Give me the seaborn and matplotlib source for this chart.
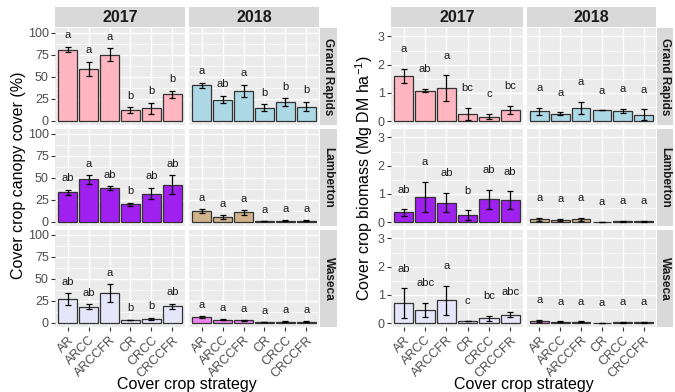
import numpy as np
import pandas as pd
import matplotlib
matplotlib.use("Agg")
import matplotlib.pyplot as plt
import seaborn as sns

# ---------------- data ----------------
strategies = ["AR", "ARCC", "ARCCFR", "CR", "CRCC", "CRCCFR"]
sites = ["Grand Rapids", "Lamberton", "Waseca"]
years = ["2017", "2018"]

# Cover crop canopy cover (%)
cover_gr17 = [81, 59, 75, 12, 14, 30]
cover_gr17_se = [3, 8, 7.5, 3.5, 6.5, 4]
cover_gr17_let = ["a", "a", "a", "b", "b", "b"]
cover_gr18 = [40, 24, 34, 14.5, 21, 16]
cover_gr18_se = [3, 4.5, 7, 4, 4.5, 5.5]
cover_gr18_let = ["a", "ab", "a", "b", "b", "b"]
cover_la17 = [33.5, 48, 38, 19.5, 32, 42]
cover_la17_se = [3, 5, 2.3, 2, 6.5, 11]
cover_la17_let = ["ab", "a", "ab", "b", "ab", "ab"]
cover_la18 = [11.7, 5.5, 10.5, 0.3, 1, 1]
cover_la18_se = [2.3, 2, 2.7, 0.1, 0.4, 0.4]
cover_la18_let = ["a", "a", "a", "a", "a", "a"]
cover_wa17 = [26.7, 18, 34, 3, 4, 18.7]
cover_wa17_se = [6.5, 2.7, 10, 0.5, 1.5, 3]
cover_wa17_let = ["ab", "ab", "a", "b", "b", "ab"]
cover_wa18 = [6.5, 3.5, 2.5, 0.3, 1, 1]
cover_wa18_se = [1, 0.7, 0.5, 0.1, 0.5, 0.5]
cover_wa18_let = ["a", "a", "a", "a", "a", "a"]

# Cover crop biomass (Mg DM ha-1)
bio_gr17 = [1.61, 1.08, 1.16, 0.26, 0.16, 0.39]
bio_gr17_se = [0.25, 0.06, 0.46, 0.22, 0.09, 0.14]
bio_gr17_let = ["a", "ab", "a", "bc", "c", "bc"]
bio_gr18 = [0.34, 0.26, 0.46, 0.38, 0.35, 0.22]
bio_gr18_se = [0.13, 0.05, 0.22, 0.0, 0.08, 0.19]
bio_gr18_let = ["a", "a", "a", "a", "a", "a"]
bio_la17 = [0.34, 0.9, 0.69, 0.25, 0.8, 0.77]
bio_la17_se = [0.11, 0.53, 0.34, 0.16, 0.33, 0.32]
bio_la17_let = ["ab", "a", "ab", "b", "ab", "ab"]
bio_la18 = [0.1, 0.06, 0.1, 0.01, 0.02, 0.02]
bio_la18_se = [0.06, 0.04, 0.05, 0.0, 0.01, 0.01]
bio_la18_let = ["a", "a", "a", "a", "a", "a"]
bio_wa17 = [0.7, 0.47, 0.8, 0.08, 0.17, 0.3]
bio_wa17_se = [0.53, 0.25, 0.53, 0.01, 0.09, 0.09]
bio_wa17_let = ["ab", "abc", "a", "c", "bc", "abc"]
bio_wa18 = [0.08, 0.04, 0.04, 0.01, 0.02, 0.02]
bio_wa18_se = [0.04, 0.02, 0.02, 0.0, 0.01, 0.01]
bio_wa18_let = ["a", "a", "a", "a", "a", "a"]

# fill colour per site-year
color_gr17 = "#FFB6C1"
color_gr18 = "#ADD8E6"
color_la17 = "#A020F0"
color_la18 = "#D2B48C"
color_wa17 = "#E6E6FA"
color_wa18 = "#EE82EE"

cover_panels = [
    [(cover_gr17, cover_gr17_se, cover_gr17_let, color_gr17), (cover_gr18, cover_gr18_se, cover_gr18_let, color_gr18)],
    [(cover_la17, cover_la17_se, cover_la17_let, color_la17), (cover_la18, cover_la18_se, cover_la18_let, color_la18)],
    [(cover_wa17, cover_wa17_se, cover_wa17_let, color_wa17), (cover_wa18, cover_wa18_se, cover_wa18_let, color_wa18)],
]
bio_panels = [
    [(bio_gr17, bio_gr17_se, bio_gr17_let, color_gr17), (bio_gr18, bio_gr18_se, bio_gr18_let, color_gr18)],
    [(bio_la17, bio_la17_se, bio_la17_let, color_la17), (bio_la18, bio_la18_se, bio_la18_let, color_la18)],
    [(bio_wa17, bio_wa17_se, bio_wa17_let, color_wa17), (bio_wa18, bio_wa18_se, bio_wa18_let, color_wa18)],
]

# ---------------- style ----------------
sns.set_theme(style="darkgrid")
plt.rcParams["font.family"] = ["Liberation Sans", "DejaVu Sans"]
plt.rcParams["mathtext.fontset"] = "custom"
plt.rcParams["mathtext.rm"] = "Liberation Sans"
plt.rcParams["mathtext.it"] = "Liberation Sans:italic"

W, H = 675, 392
fig = plt.figure(figsize=(W / 100, H / 100), dpi=100)
fig.patch.set_facecolor("white")


def frac(x0, x1, y0, y1):
    return [x0 / W, 1 - y1 / H, (x1 - x0) / W, (y1 - y0) / H]


rows_y = [(28, 125), (129, 226), (230, 327)]
PANEL_BG = "#EBEBEB"
STRIP_BG = "#D9D9D9"


def draw_panel(ax, vals, se, lets, color, ylim, yticks, yminor, offset, show_y, show_x):
    df = pd.DataFrame({"strategy": strategies, "value": vals})
    sns.barplot(data=df, x="strategy", y="value", order=strategies, ax=ax,
                color=color, saturation=1, width=0.9, edgecolor="#333333",
                linewidth=0.9, errorbar=None, zorder=2)
    centers = [p.get_x() + p.get_width() / 2 for p in ax.patches]
    ax.errorbar(centers, vals, yerr=se, fmt="none", ecolor="black",
                elinewidth=0.9, capsize=2.4, capthick=0.9, zorder=3)
    for c, v, s, l in zip(centers, vals, se, lets):
        ax.text(c, v + s + offset, l, ha="center", va="center",
                fontsize=8, color="#1A1A1A", zorder=4)
    ax.set_facecolor(PANEL_BG)
    ax.set_xlim(-0.6, 5.6)
    ax.set_ylim(*ylim)
    ax.set_yticks(yticks)
    ax.set_yticks(yminor, minor=True)
    ax.set_axisbelow(True)
    ax.grid(which="major", color="white", linewidth=1.0)
    ax.grid(which="minor", axis="y", color="white", linewidth=0.5)
    ax.grid(which="major", axis="x", color="white", linewidth=1.0)
    for s in ax.spines.values():
        s.set_visible(False)
    ax.set_xlabel("")
    ax.set_ylabel("")
    ax.tick_params(which="minor", length=0)
    ax.tick_params(axis="y", which="major", length=3 if show_y else 0, width=0.8,
                   color="#333333", labelcolor="#4D4D4D", labelsize=9, pad=1.5,
                   labelleft=show_y, left=show_y)
    ax.set_xticks(range(len(strategies)))
    if show_x:
        ax.set_xticklabels(strategies, rotation=45, ha="right", rotation_mode="anchor")
        ax.tick_params(axis="x", which="major", length=3, width=0.8, color="#333333",
                       labelcolor="#4D4D4D", labelsize=9, pad=2, bottom=True)
    else:
        ax.set_xticklabels([])
        ax.tick_params(axis="x", which="major", length=0, bottom=False)


def draw_chart(panels, cols_x, strip_x, ylim, yticks, yminor, offset, ylabel, ylabel_x, ylabel_y):
    for r, (y0, y1) in enumerate(rows_y):
        for c, (x0, x1) in enumerate(cols_x):
            ax = fig.add_axes(frac(x0, x1, y0, y1))
            vals, se, lets, color = panels[r][c]
            draw_panel(ax, vals, se, lets, color, ylim, yticks, yminor, offset,
                       show_y=(c == 0), show_x=(r == 2))
        # right strip
        sax = fig.add_axes(frac(strip_x[0], strip_x[1], y0, y1))
        sax.set_facecolor(STRIP_BG)
        sax.set_xticks([]); sax.set_yticks([])
        for s in sax.spines.values():
            s.set_visible(False)
        sax.text(0.5, 0.5, sites[r], rotation=-90, ha="center", va="center",
                 fontsize=8.5, fontweight="bold", color="#1A1A1A", transform=sax.transAxes)
    for c, (x0, x1) in enumerate(cols_x):
        sax = fig.add_axes(frac(x0, x1, 7, 27))
        sax.set_facecolor(STRIP_BG)
        sax.set_xticks([]); sax.set_yticks([])
        for s in sax.spines.values():
            s.set_visible(False)
        sax.text(0.5, 0.45, years[c], ha="center", va="center", fontsize=11.5,
                 fontweight="bold", color="#1A1A1A", transform=sax.transAxes)
    xc = (cols_x[0][0] + cols_x[1][1]) / 2
    fig.text(xc / W, 1 - 384 / H, "Cover crop strategy", ha="center", va="center",
             fontsize=11.5, color="black")
    fig.text(ylabel_x / W, 1 - ylabel_y / H, ylabel, rotation=90, ha="center",
             va="center", fontsize=11.5, color="black")


draw_chart(cover_panels, [(55, 185), (189, 319)], (320, 337),
           (-5, 105.5), [0, 25, 50, 75, 100], [12.5, 37.5, 62.5, 87.5],
           13, "Cover crop canopy cover (%)", 19, 175)
draw_chart(bio_panels, [(391, 523), (527, 656)], (657, 673),
           (-0.14, 3.3), [0, 1, 2, 3], [0.5, 1.5, 2.5],
           0.7, r"Cover crop biomass (Mg DM ha$^{-1}$)", 364, 178)

fig.savefig("out.png", dpi=100, facecolor="white")
